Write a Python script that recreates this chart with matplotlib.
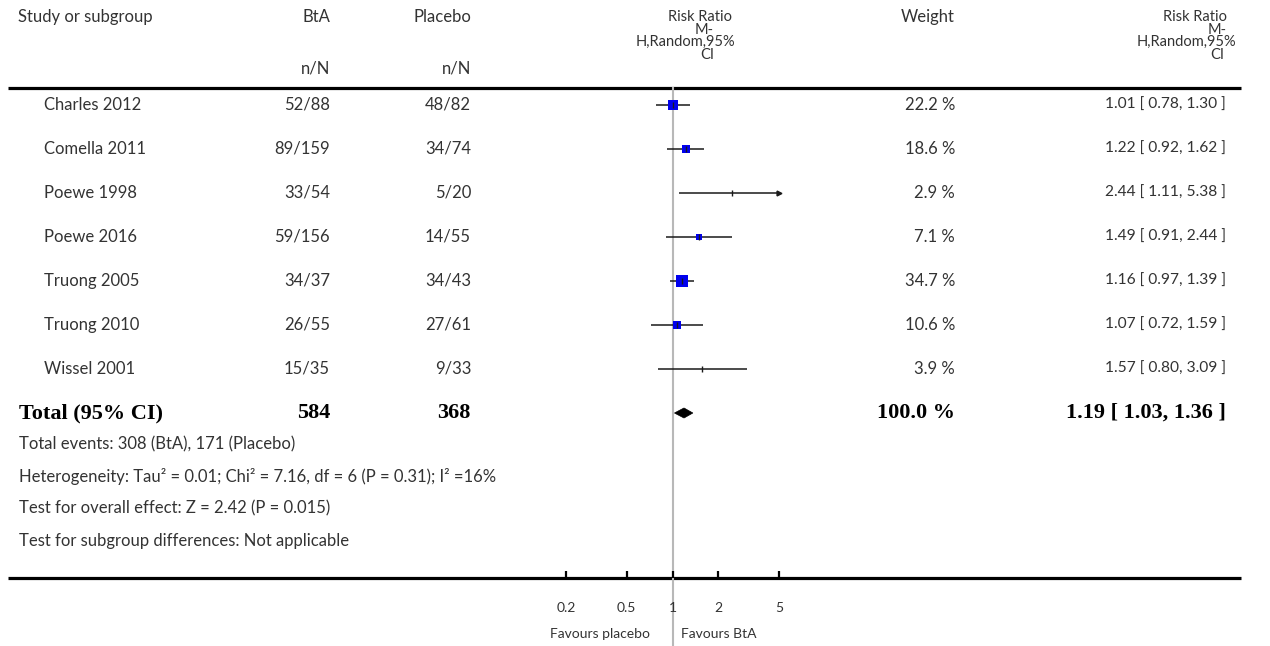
import matplotlib
matplotlib.use("Agg")
import matplotlib.pyplot as plt
from matplotlib.patches import Polygon
import numpy as np

# ---------------- data ----------------
studies = ["Charles 2012", "Comella 2011", "Poewe 1998", "Poewe 2016",
           "Truong 2005", "Truong 2010", "Wissel 2001"]
bta_nN = ["52/88", "89/159", "33/54", "59/156", "34/37", "26/55", "15/35"]
placebo_nN = ["48/82", "34/74", "5/20", "14/55", "34/43", "27/61", "9/33"]
weights = [22.2, 18.6, 2.9, 7.1, 34.7, 10.6, 3.9]
rr = [1.01, 1.22, 2.44, 1.49, 1.16, 1.07, 1.57]
rr_lo = [0.78, 0.92, 1.11, 0.91, 0.97, 0.72, 0.80]
rr_hi = [1.30, 1.62, 5.38, 2.44, 1.39, 1.59, 3.09]

total_bta = "584"
total_placebo = "368"
total_weight = "100.0 %"
total_rr, total_lo, total_hi = 1.19, 1.03, 1.36

footer_lines = [
    "Total events: 308 (BtA), 171 (Placebo)",
    "Heterogeneity: Tau\u00b2 = 0.01; Chi\u00b2 = 7.16, df = 6 (P = 0.31); I\u00b2 =16%",
    "Test for overall effect: Z = 2.42 (P = 0.015)",
    "Test for subgroup differences: Not applicable",
]
tick_vals = [0.2, 0.5, 1, 2, 5]
tick_labels = ["0.2", "0.5", "1", "2", "5"]
fav_left = "Favours placebo"
fav_right = "Favours BtA"

# ---------------- layout ----------------
W, H = 1270, 646
fig = plt.figure(figsize=(W / 100, H / 100), dpi=100)
bg = fig.add_axes([0, 0, 1, 1])
bg.set_xlim(0, W)
bg.set_ylim(H, 0)
bg.axis("off")

SANS = "Lato"
SERIF = "Liberation Serif"
TXT = "#333333"
FS = 12
FSN = 11.2
FSB = 16

row0, dy = 105, 44
def ry(i):
    return row0 + dy * i

top_line, bot_line = 88, 578

# horizontal rules
bg.plot([8, 1241], [top_line, top_line], color="black", lw=2.3, solid_capstyle="butt")
bg.plot([8, 1241], [bot_line, bot_line], color="black", lw=2.3, solid_capstyle="butt")

# headers
hy1, hy2 = 17, 69
bg.text(18, hy1, "Study or subgroup", ha="left", va="center", fontsize=FS, family=SANS, color=TXT)
bg.text(330, hy1, "BtA", ha="right", va="center", fontsize=FS, family=SANS, color=TXT)
bg.text(471, hy1, "Placebo", ha="right", va="center", fontsize=FS, family=SANS, color=TXT)
bg.text(330, hy2, "n/N", ha="right", va="center", fontsize=FS, family=SANS, color=TXT)
bg.text(471, hy2, "n/N", ha="right", va="center", fontsize=FS, family=SANS, color=TXT)
bg.text(955, hy1, "Weight", ha="right", va="center", fontsize=FS, family=SANS, color=TXT)
HFS = 10.5
for txt, cx, yy in [("Risk Ratio", 700, 17), ("M-", 704, 30), ("H,Random,95%", 685, 42), ("CI", 707, 55)]:
    bg.text(cx, yy, txt, ha="center", va="center", fontsize=HFS, family=SANS, color=TXT)
for txt, rx, yy in [("Risk Ratio", 1227, 17), ("M-", 1227, 30), ("H,Random,95%", 1236, 42), ("CI", 1224, 55)]:
    bg.text(rx, yy, txt, ha="right", va="center", fontsize=HFS, family=SANS, color=TXT)

# study rows
for i, s in enumerate(studies):
    y = ry(i)
    bg.text(44, y, s, ha="left", va="center", fontsize=FS, family=SANS, color=TXT)
    bg.text(330, y, bta_nN[i], ha="right", va="center", fontsize=FS, family=SANS, color=TXT)
    bg.text(471, y, placebo_nN[i], ha="right", va="center", fontsize=FS, family=SANS, color=TXT)
    bg.text(955, y, f"{weights[i]:.1f} %", ha="right", va="center", fontsize=FS, family=SANS, color=TXT)
    bg.text(1226, y, f"{rr[i]:.2f} [ {rr_lo[i]:.2f}, {rr_hi[i]:.2f} ]", ha="right", va="center",
            fontsize=FSN, family=SANS, color=TXT)

# total row
ty = ry(len(studies))
bg.text(19, ty, "Total (95% CI)", ha="left", va="center", fontsize=FSB, family=SERIF, weight="bold", color="black")
bg.text(330, ty, total_bta, ha="right", va="center", fontsize=FSB, family=SERIF, weight="bold", color="black")
bg.text(471, ty, total_placebo, ha="right", va="center", fontsize=FSB, family=SERIF, weight="bold", color="black")
bg.text(955, ty, total_weight, ha="right", va="center", fontsize=FSB, family=SERIF, weight="bold", color="black")
bg.text(1226, ty, f"{total_rr:.2f} [ {total_lo:.2f}, {total_hi:.2f} ]", ha="right", va="center",
        fontsize=FSB, family=SERIF, weight="bold", color="black")

for k, line in enumerate(footer_lines):
    bg.text(19, 444 + 32.3 * k, line, ha="left", va="center", fontsize=FS, family=SANS, color=TXT)

# ---------------- forest axes ----------------
x_left_px, x_right_px = 566, 779
ax = fig.add_axes([x_left_px / W, 1 - bot_line / H, (x_right_px - x_left_px) / W, (bot_line - top_line) / H])
ax.set_xscale("log")
ax.set_xlim(tick_vals[0], tick_vals[-1])
ax.set_ylim((bot_line - row0) / dy, (top_line - row0) / dy)
for sp in ax.spines.values():
    sp.set_visible(False)
ax.patch.set_alpha(0)
ax.set_yticks([])
ax.set_xticks(tick_vals)
ax.set_xticklabels(tick_labels)
ax.minorticks_off()
ax.tick_params(axis="x", direction="in", length=5, width=1.6, pad=17, labelsize=10,
               labelcolor=TXT, color="black")
for lab in ax.get_xticklabels():
    lab.set_family(SANS)

# reference line at 1
y_fig_bottom = (H - row0) / dy
ax.plot([1, 1], [(top_line - row0) / dy, y_fig_bottom], color="#b8b8b8", lw=1.5, clip_on=False, zorder=1)

xmax = tick_vals[-1]
for i in range(len(studies)):
    hi = min(rr_hi[i], xmax)
    ax.plot([rr_lo[i], hi], [i, i], color="#1a1a1a", lw=1.1, zorder=2, solid_capstyle="butt")
    if rr_hi[i] > xmax:
        ax.plot([xmax], [i], marker=">", color="#1a1a1a", markersize=3.5, zorder=3, clip_on=False)
    side_px = 3.2 * weights[i] ** 0.35
    if weights[i] >= 5:
        ax.plot([rr[i]], [i], marker="s", color="#0000ee", markersize=side_px * 0.72,
                markeredgewidth=0, zorder=3)
    ax.plot([rr[i]], [i], marker="|", color="#1a1a1a", markersize=4, markeredgewidth=1.0, zorder=4)

ti = len(studies)
hh = 5 / dy
ax.add_patch(Polygon([[total_lo, ti], [total_rr, ti - hh], [total_hi, ti], [total_rr, ti + hh]],
                     closed=True, facecolor="black", edgecolor="black", lw=0.5, zorder=3))

# favours labels
bg.text(650, 634, fav_left, ha="right", va="center", fontsize=10, family=SANS, color=TXT)
bg.text(681, 634, fav_right, ha="left", va="center", fontsize=10, family=SANS, color=TXT)

fig.savefig("out.png", dpi=100)
